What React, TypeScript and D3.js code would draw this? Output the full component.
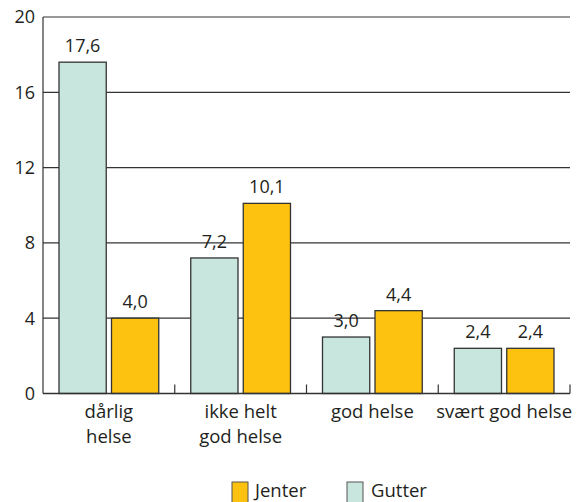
import React from "react";
import * as d3 from "d3";

const categories: string[][] = [["dårlig", "helse"], ["ikke helt", "god helse"], ["god helse"], ["svært god helse"]];
const gutter: number[] = [17.6, 7.2, 3.0, 2.4];
const jenter: number[] = [4.0, 10.1, 4.4, 2.4];
const yTicks: number[] = [0, 4, 8, 12, 16, 20];
const seriesNames = ["Gutter", "Jenter"];

const W = 576, H = 502;
const left = 43, right = 570, top = 17, bottom = 393.5;
const FONT = "'Open Sans', sans-serif";
const colors: Record<string, string> = { Gutter: "#c8e6dd", Jenter: "#fdc20f" };
const stroke = "#333";

export default function App() {
  const y = d3.scaleLinear().domain([0, 20]).range([bottom, top]);
  const x0 = d3.scaleBand<number>().domain(d3.range(categories.length)).range([left, right]).paddingInner(0).paddingOuter(0);
  const x1 = d3.scaleBand<string>().domain(seriesNames).range([16, x0.bandwidth() - 16]).paddingInner(0.1);
  const values: Record<string, number[]> = { Gutter: gutter, Jenter: jenter };
  const fmt = (v: number) => v.toFixed(1).replace(".", ",");

  return (
    <svg width={W} height={H} style={{ position: "absolute", left: 0, top: 0 }} fontFamily={FONT}>
      <rect width={W} height={H} fill="#fff" />
      {yTicks.filter((t) => t > 0).map((t) => (
        <line key={t} x1={left} x2={right} y1={y(t)} y2={y(t)} stroke={stroke} strokeWidth={1.2} />
      ))}
      {yTicks.map((t) => (
        <text key={"l" + t} x={35} y={y(t)} dy="0.36em" textAnchor="end" fontSize={18} fill="#231f20">{t}</text>
      ))}
      {categories.map((c, i) => (
        <g key={i} transform={`translate(${x0(i)},0)`}>
          {seriesNames.map((s) => {
            const v = values[s][i];
            const bx = x1(s)!;
            return (
              <g key={s}>
                <rect x={bx} y={y(v)} width={x1.bandwidth()} height={bottom - y(v)} fill={colors[s]} stroke={stroke} strokeWidth={1.3} />
                <text x={bx + x1.bandwidth() / 2} y={y(v) - 10} textAnchor="middle" fontSize={18} fill="#231f20">{fmt(v)}</text>
              </g>
            );
          })}
          {c.map((line, k) => (
            <text key={k} x={x0.bandwidth() / 2} y={418 + k * 25} textAnchor="middle" fontSize={18.5} fill="#231f20">{line}</text>
          ))}
        </g>
      ))}
      {d3.range(1, categories.length + 1).map((i) => {
        const xx = i === categories.length ? right : x0(i)!;
        return <line key={"t" + i} x1={xx} x2={xx} y1={bottom} y2={bottom - 9} stroke={stroke} strokeWidth={1.2} />;
      })}
      <line x1={left} x2={left} y1={top} y2={bottom} stroke={stroke} strokeWidth={1.2} />
      <line x1={left} x2={right} y1={bottom} y2={bottom} stroke={stroke} strokeWidth={1.4} />
      {[
        { name: "Jenter", sx: 232, tx: 255 },
        { name: "Gutter", sx: 347, tx: 371 },
      ].map((l) => (
        <g key={l.name}>
          <rect x={l.sx} y={482} width={16} height={22} fill={colors[l.name]} stroke="#555" strokeWidth={1} />
          <text x={l.tx} y={497} fontSize={18.5} fill="#231f20">{l.name}</text>
        </g>
      ))}
    </svg>
  );
}
